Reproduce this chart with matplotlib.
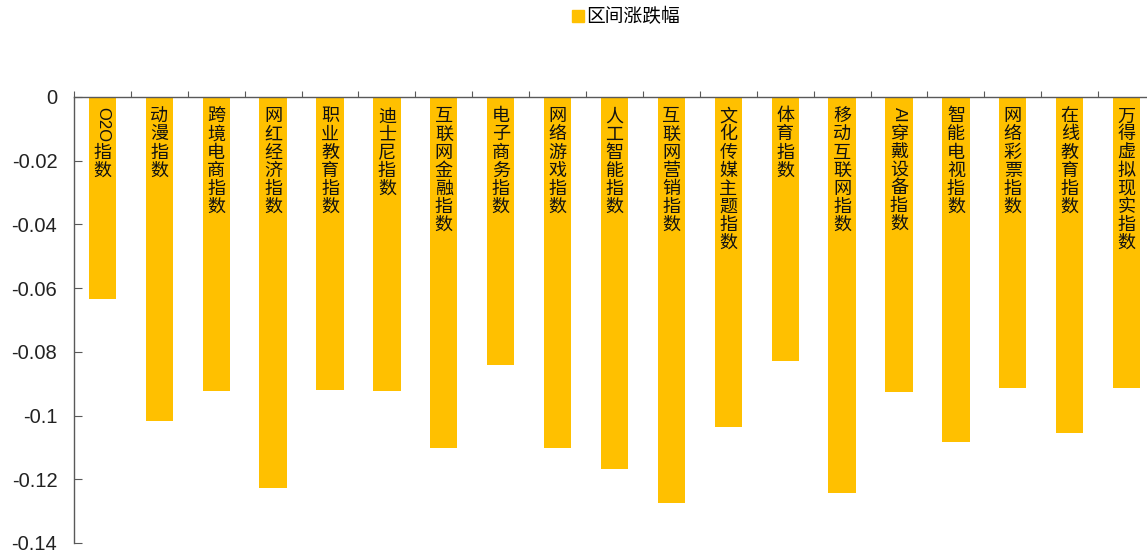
import matplotlib
matplotlib.use("Agg")
import matplotlib.pyplot as plt
from matplotlib.ticker import FuncFormatter, MultipleLocator
from matplotlib.lines import Line2D

plt.rcParams['font.family'] = ['Noto Sans CJK SC', 'DejaVu Sans']
plt.rcParams['axes.unicode_minus'] = False

# 数据
categories = ['O2O指数', '动漫指数', '跨境电商指数', '网红经济指数', '职业教育指数',
              '迪士尼指数', '互联网金融指数', '电子商务指数', '网络游戏指数', '人工智能指数',
              '互联网营销指数', '文化传媒主题指数', '体育指数', '移动互联网指数',
              'AI穿戴设备指数', '智能电视指数', '网络彩票指数', '在线教育指数',
              '万得虚拟现实指数']
values = [-0.0633, -0.1016, -0.0922, -0.1228, -0.0919,
          -0.0922, -0.1102, -0.0841, -0.1102, -0.1169,
          -0.1273, -0.1035, -0.0828, -0.1242,
          -0.0927, -0.1083, -0.0914, -0.1055,
          -0.0914]
series_name = '区间涨跌幅'
bar_color = '#FFC000'
axis_color = '#595959'

fig = plt.figure(figsize=(11.47, 5.54), dpi=100)
ax = fig.add_axes([74 / 1147, 11 / 554, 1081 / 1147, 446 / 554])

x = [i + 0.5 for i in range(len(categories))]
ax.bar(x, values, width=0.48, color=bar_color, edgecolor='none')

ax.set_xlim(0, len(categories))
ax.set_ylim(-0.14, 0)

# 坐标轴
for s in ['right', 'bottom']:
    ax.spines[s].set_visible(False)
for s in ['left', 'top']:
    ax.spines[s].set_color(axis_color)
    ax.spines[s].set_linewidth(1.0)

ax.xaxis.tick_top()
ax.set_xticks(range(len(categories) + 1))
ax.tick_params(axis='x', direction='out', length=4, color=axis_color, labeltop=False)
ax.yaxis.set_major_locator(MultipleLocator(0.02))
ax.yaxis.set_major_formatter(FuncFormatter(lambda v, p: '%g' % round(v, 4) if abs(v) > 1e-9 else '0'))
ax.tick_params(axis='y', direction='in', length=6, color=axis_color, labelsize=14.5, pad=12)
for t in ax.get_yticklabels():
    t.set_family(['Liberation Sans', 'DejaVu Sans'])
    t.set_color('#222222')

# 柱内竖排标签
fs = 13
renderer = fig.canvas.get_renderer()


def segments(label):
    segs = []
    buf = ''
    for ch in label:
        if ord(ch) < 128:
            buf += ch
        else:
            if buf:
                segs.append(('latin', buf))
                buf = ''
            segs.append(('cjk', ch))
    if buf:
        segs.append(('latin', buf))
    return segs


for xi, lab in zip(x, categories):
    cur = 7.5  # points below y=0
    for kind, s in segments(lab):
        if kind == 'cjk':
            ax.annotate(s, xy=(xi, 0), xycoords='data', xytext=(0, -cur),
                        textcoords='offset points', ha='center', va='top',
                        fontsize=fs, color='#111111', annotation_clip=False)
            cur += fs * 1.0
        else:
            t = ax.annotate(s, xy=(xi, 0), xycoords='data', xytext=(0, -cur),
                            textcoords='offset points', ha='center', va='top',
                            fontsize=fs - 1, color='#111111', rotation=-90,
                            family=['Liberation Sans', 'DejaVu Sans'],
                            annotation_clip=False)
            bb = t.get_window_extent(renderer)
            cur += bb.height * 72 / fig.dpi + 1

# 图例
handle = Line2D([], [], marker='s', linestyle='none', markersize=9,
                markerfacecolor=bar_color, markeredgecolor=bar_color)
fig.legend([handle], [series_name], loc='center', bbox_to_anchor=(0.545, 0.97),
           frameon=False, fontsize=13.5, handletextpad=0.05, handlelength=0.8)

fig.savefig('out.png', dpi=100)
